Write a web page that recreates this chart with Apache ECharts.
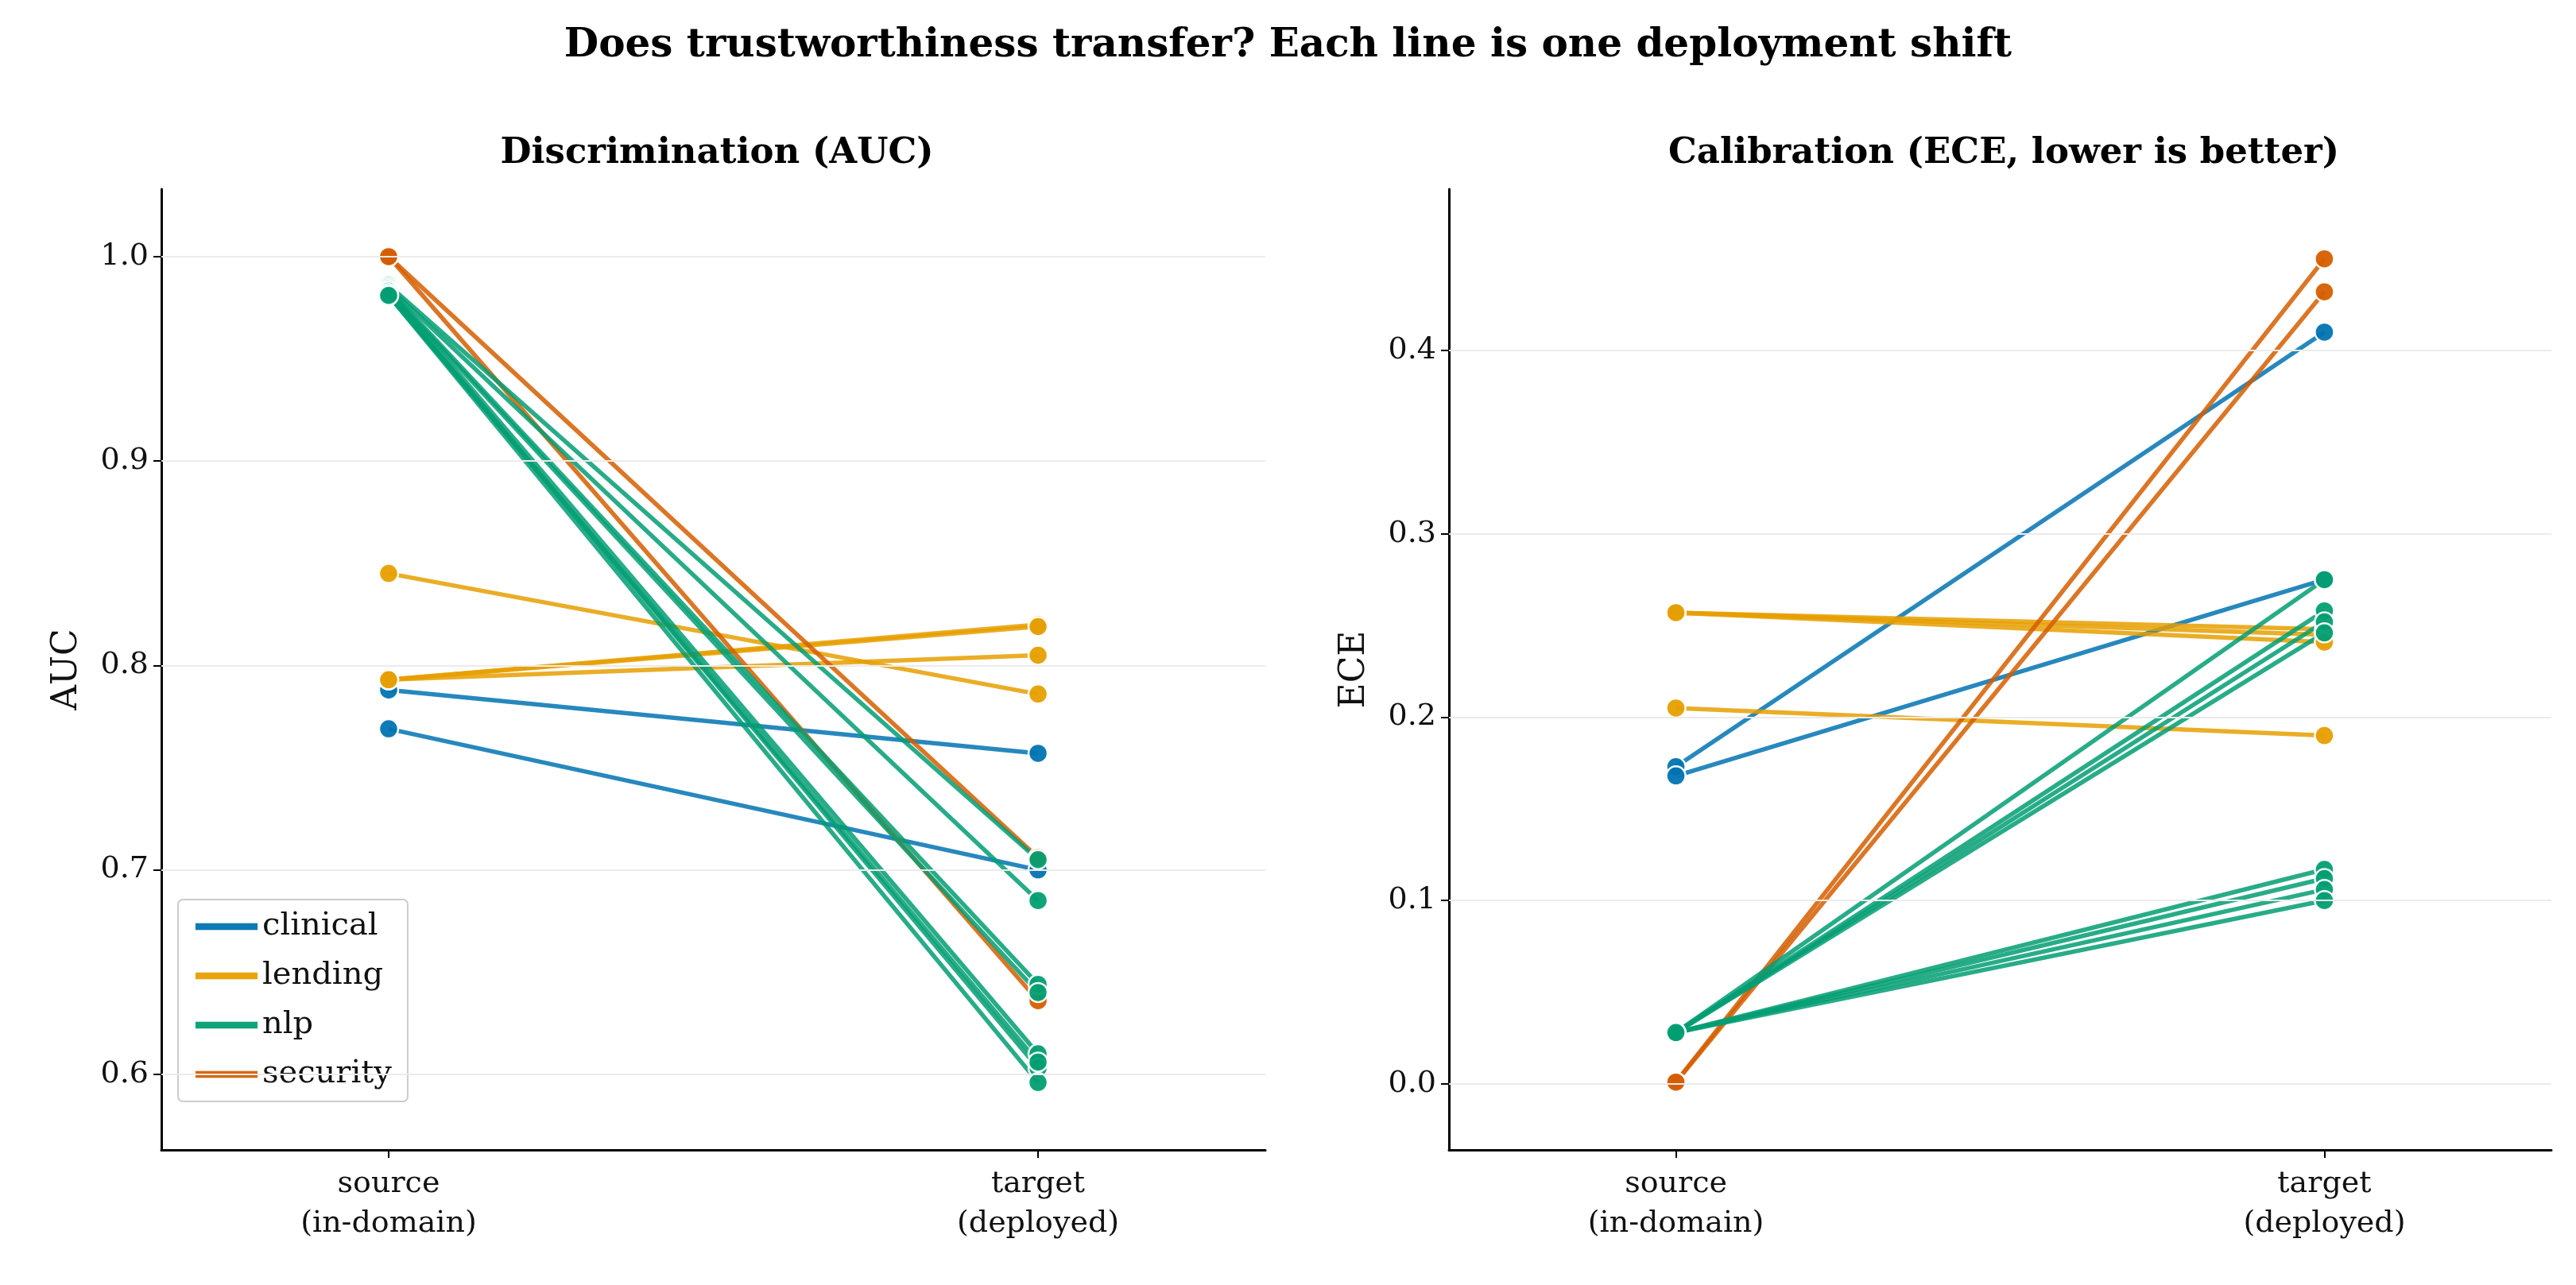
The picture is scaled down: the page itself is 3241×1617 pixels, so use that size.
<!DOCTYPE html>
<html><head><meta charset="utf-8">
<script src="https://cdn.jsdelivr.net/npm/echarts@6/dist/echarts.min.js"></script>
<style>html,body{margin:0;padding:0;background:#fff}#c{width:3241px;height:1617px}</style>
</head><body><div id="c"></div>
<script>
const domains = ['clinical','lending','nlp','security'];
const colors = {clinical:'#0173b2', lending:'#e69f00', nlp:'#029e73', security:'#d55e00'};
const xLabels = ['source\n(in-domain)','target\n(deployed)'];
// each shift: [domain, aucSource, aucTarget, eceSource, eceTarget]
const shiftDomain = ['clinical','clinical','lending','lending','lending','lending','security','security','nlp','nlp','nlp','nlp','nlp','nlp','nlp','nlp'];
const aucSource = [0.788,0.769,0.845,0.793,0.793,0.793,1.000,1.000,0.986,0.985,0.984,0.983,0.983,0.982,0.981,0.981];
const aucTarget = [0.757,0.700,0.786,0.820,0.819,0.805,0.706,0.636,0.705,0.685,0.644,0.640,0.610,0.603,0.596,0.606];
const eceSource = [0.173,0.168,0.257,0.257,0.257,0.205,0.001,0.001,0.028,0.028,0.028,0.028,0.028,0.028,0.028,0.028];
const eceTarget = [0.410,0.275,0.245,0.248,0.241,0.190,0.450,0.432,0.275,0.258,0.252,0.246,0.117,0.112,0.106,0.100];
const aucTicks = [0.6,0.7,0.8,0.9,1.0];
const eceTicks = [0.0,0.1,0.2,0.3,0.4];

const F = 'DejaVu Serif';
function xAxis(idx){
  return {gridIndex:idx,type:'value',min:-0.35,max:1.35,position:'bottom',
    axisLine:{show:true,onZero:false,lineStyle:{color:'#000',width:3}},
    axisTick:{show:true,customValues:[0,1],length:10,lineStyle:{color:'#000',width:2}},
    axisLabel:{customValues:[0,1],formatter:v=>xLabels[Math.round(v)],fontFamily:F,fontSize:38,color:'#111',margin:18,lineHeight:50},
    splitLine:{show:false}};
}
function yAxis(idx,min,max,ticks,name){
  return {gridIndex:idx,type:'value',min:min,max:max,name:name,nameLocation:'middle',nameGap:96,position:'left',
    nameTextStyle:{fontFamily:F,fontSize:44,color:'#111'},
    axisLine:{show:true,onZero:false,lineStyle:{color:'#000',width:3}},
    axisTick:{show:true,customValues:ticks,length:10,lineStyle:{color:'#000',width:2}},
    axisLabel:{customValues:ticks,formatter:v=>v.toFixed(1),fontFamily:F,fontSize:38,color:'#111',margin:16},
    splitLine:{show:false}};
}
const series = [];
for (let i=0;i<shiftDomain.length;i++){
  const d = shiftDomain[i];
  const common = {type:'line',name:d,color:colors[d],symbol:'circle',symbolSize:24,
    lineStyle:{width:5.5,opacity:0.85},itemStyle:{color:colors[d],borderColor:'#fff',borderWidth:2.5,opacity:0.95},
    emphasis:{disabled:true},z:3};
  series.push(Object.assign({},common,{xAxisIndex:0,yAxisIndex:0,data:[[0,aucSource[i]],[1,aucTarget[i]]]}));
  series.push(Object.assign({},common,{xAxisIndex:1,yAxisIndex:1,data:[[0,eceSource[i]],[1,eceTarget[i]]]}));
}
function gridSeries(idx,ticks){
  return {type:'line',xAxisIndex:idx,yAxisIndex:idx,data:[],silent:true,z:1,
    markLine:{silent:true,symbol:'none',label:{show:false},lineStyle:{color:'#ebebeb',width:2,type:'solid'},
      data:ticks.map(t=>({yAxis:t}))}};
}
series.push(gridSeries(0,aucTicks), gridSeries(1,eceTicks));

const chart = echarts.init(document.getElementById('c'));
chart.setOption({
  backgroundColor:'#fff',animation:false,
  title:[
    {text:'Does trustworthiness transfer? Each line is one deployment shift',left:'center',top:28,textStyle:{fontFamily:F,fontSize:50,fontWeight:'bold',color:'#000'}},
    {text:'Discrimination (AUC)',left:897,textAlign:'center',top:166,textStyle:{fontFamily:F,fontSize:45,fontWeight:'bold',color:'#000'}},
    {text:'Calibration (ECE, lower is better)',left:2516,textAlign:'center',top:166,textStyle:{fontFamily:F,fontSize:45,fontWeight:'bold',color:'#000'}}
  ],
  grid:[{left:203,width:1389,top:238,height:1209},{left:1823,width:1387,top:238,height:1209}],
  xAxis:[xAxis(0),xAxis(1)],
  yAxis:[yAxis(0,0.563,1.033,aucTicks,'AUC'),yAxis(1,-0.036,0.488,eceTicks,'ECE')],
  legend:{data:domains.map(d=>({name:d,icon:'path://M0,4h30v4H0z'})),orient:'vertical',left:224,top:1132,
    itemWidth:80,itemHeight:24,itemGap:22,padding:[14,20],borderColor:'#ccc',borderWidth:2,borderRadius:6,backgroundColor:'rgba(255,255,255,0.85)',
    textStyle:{fontFamily:F,fontSize:40,color:'#111'}},
  series:series
});
</script></body></html>
